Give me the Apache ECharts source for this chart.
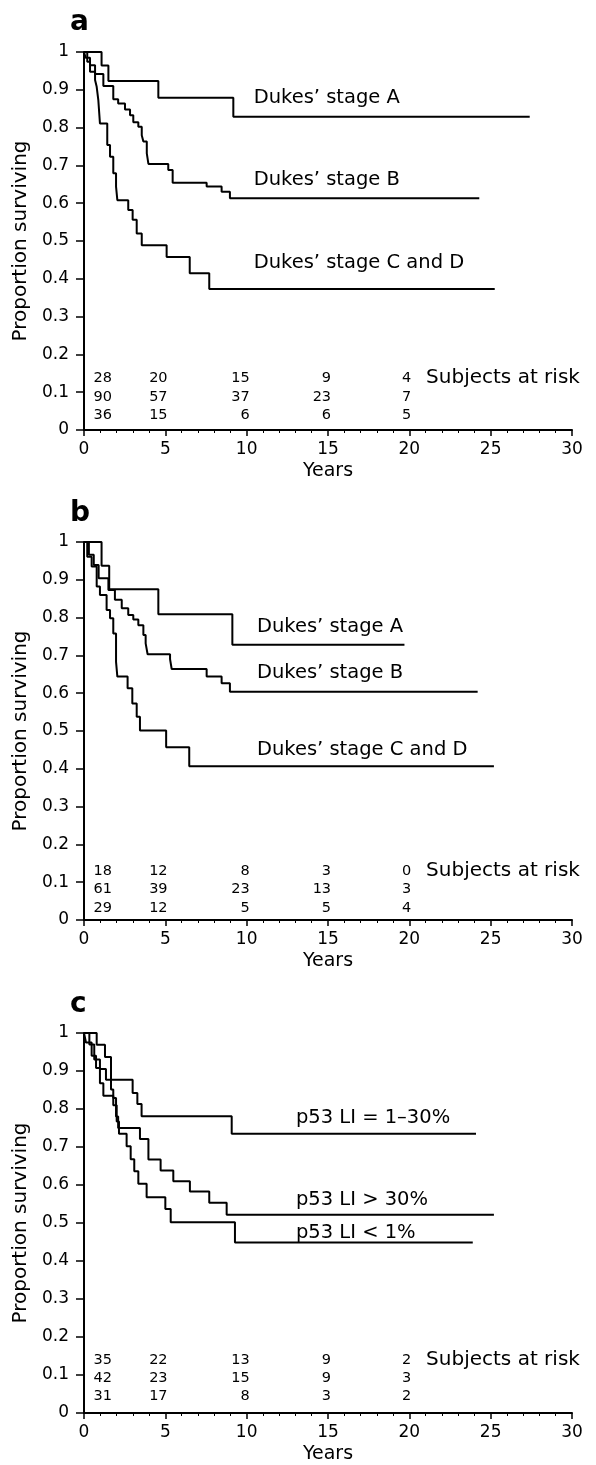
<!DOCTYPE html>
<html><head><meta charset="utf-8">
<script src="https://cdn.jsdelivr.net/npm/echarts/dist/echarts.min.js"></script>
<style>html,body{margin:0;padding:0;background:#fff}#c{width:596px;height:1465px}</style>
</head><body><div id="c"></div>
<script>
// ---------- Panel a ----------
const aStageA_t = [0, 1.08, 1.5, 4.57, 9.18, 27.4];
const aStageA_s = [1, 0.964, 0.923, 0.879, 0.829, 0.829];
const aStageB_t = [0, 0.1, 0.37, 0.68, 1.19, 1.8, 2.1, 2.52, 2.83, 3.03, 3.34, 3.55, 3.65, 3.86, 3.96, 5.18, 5.45, 7.54, 8.46, 8.97, 24.3];
const aStageB_s = [1, 0.985, 0.965, 0.942, 0.91, 0.875, 0.864, 0.848, 0.833, 0.814, 0.802, 0.78, 0.763, 0.732, 0.704, 0.688, 0.654, 0.644, 0.63, 0.613, 0.613];
const aStageCD_t = [0, 0.2, 0.37, 0.68, 0.78, 0.88, 0.98, 1.43, 1.6, 1.8, 1.97, 2.05, 2.72, 2.99, 3.24, 3.55, 5.08, 6.5, 7.7, 25.25];
const aStageCD_s = [1, 0.974, 0.948, 0.926, 0.908, 0.873, 0.811, 0.754, 0.723, 0.679, 0.644, 0.608, 0.582, 0.556, 0.52, 0.489, 0.458, 0.415, 0.373, 0.373];
const aRisk = [[28, 20, 15, 9, 4], [90, 57, 37, 23, 7], [36, 15, 6, 6, 5]];
const aRiskRows = [0.137, 0.088, 0.038];
const aLabels = ["Dukes\u2019 stage A", "Dukes\u2019 stage B", "Dukes\u2019 stage C and D"];
const aLabelPos = [[10.4, 0.878], [10.4, 0.661], [10.4, 0.442]];

// ---------- Panel b ----------
const bStageA_t = [0, 1.08, 1.55, 4.57, 9.12, 19.7];
const bStageA_s = [1, 0.937, 0.875, 0.809, 0.728, 0.728];
const bStageB_t = [0, 0.3, 0.6, 0.9, 1.5, 1.9, 2.32, 2.72, 3.03, 3.34, 3.65, 3.79, 3.91, 5.29, 5.39, 7.54, 8.46, 8.97, 24.2];
const bStageB_s = [1, 0.966, 0.939, 0.904, 0.873, 0.847, 0.825, 0.807, 0.795, 0.78, 0.754, 0.732, 0.703, 0.69, 0.664, 0.644, 0.626, 0.604, 0.604];
const bStageCD_t = [0, 0.2, 0.47, 0.78, 0.98, 1.39, 1.6, 1.8, 1.97, 2.05, 2.68, 2.97, 3.24, 3.44, 5.05, 6.47, 25.2];
const bStageCD_s = [1, 0.961, 0.935, 0.882, 0.86, 0.82, 0.798, 0.758, 0.683, 0.644, 0.613, 0.573, 0.538, 0.501, 0.457, 0.407, 0.407];
const bRisk = [[18, 12, 8, 3, 0], [61, 39, 23, 13, 3], [29, 12, 5, 5, 4]];
const bRiskRows = [0.13, 0.081, 0.032];
const bLabels = ["Dukes\u2019 stage A", "Dukes\u2019 stage B", "Dukes\u2019 stage C and D"];
const bLabelPos = [[10.6, 0.776], [10.6, 0.653], [10.6, 0.45]];

// ---------- Panel c ----------
const cMid_t = [0, 0.78, 1.29, 1.66, 2.99, 3.28, 3.54, 9.08, 24.1];
const cMid_s = [1, 0.969, 0.937, 0.877, 0.842, 0.813, 0.781, 0.735, 0.735];
const cHigh_t = [0, 0.33, 0.63, 0.98, 1.35, 1.66, 1.8, 1.97, 2.1, 3.44, 3.96, 4.71, 5.49, 6.51, 7.7, 8.77, 25.2];
const cHigh_s = [1, 0.97, 0.93, 0.905, 0.877, 0.851, 0.829, 0.78, 0.75, 0.721, 0.667, 0.638, 0.61, 0.583, 0.553, 0.522, 0.522];
const cLow_t = [0, 0.12, 0.47, 0.74, 0.98, 1.19, 1.8, 2.01, 2.15, 2.62, 2.87, 3.09, 3.34, 3.85, 5.0, 5.33, 9.28, 23.9];
const cLow_s = [1, 0.975, 0.94, 0.908, 0.868, 0.835, 0.81, 0.767, 0.735, 0.702, 0.668, 0.636, 0.603, 0.568, 0.537, 0.502, 0.449, 0.449];
const cRisk = [[35, 22, 13, 9, 2], [42, 23, 15, 9, 3], [31, 17, 8, 3, 2]];
const cRiskRows = [0.14, 0.092, 0.045];
const cLabels = ["p53 LI = 1\u201330%", "p53 LI > 30%", "p53 LI < 1%"];
const cLabelPos = [[13.0, 0.776], [13.0, 0.561], [13.0, 0.473]];

// ---------- shared ----------
const riskX = [1.75, 5.17, 10.22, 15.22, 20.15];
const riskTitle = "Subjects at risk";
const riskTitleX = 21.0;
const panelLetters = ["a", "b", "c"];

const FONT = "DejaVu Sans";
const panels = [
  {curves: [[aStageA_t, aStageA_s], [aStageB_t, aStageB_s], [aStageCD_t, aStageCD_s]], risk: aRisk, rows: aRiskRows, labels: aLabels, labelPos: aLabelPos},
  {curves: [[bStageA_t, bStageA_s], [bStageB_t, bStageB_s], [bStageCD_t, bStageCD_s]], risk: bRisk, rows: bRiskRows, labels: bLabels, labelPos: bLabelPos},
  {curves: [[cMid_t, cMid_s], [cHigh_t, cHigh_s], [cLow_t, cLow_s]], risk: cRisk, rows: cRiskRows, labels: cLabels, labelPos: cLabelPos}
];
const gridBoxes = [
  {left: 84, top: 52, width: 488, height: 378},
  {left: 84, top: 542, width: 488, height: 378},
  {left: 84, top: 1033, width: 488, height: 380}
];
const titleTops = [9, 500, 991];
const HIDDEN = 'rgba(0,0,0,0)';

const grid = [], xAxis = [], yAxis = [], series = [], title = [];
panels.forEach((p, i) => {
  grid.push(gridBoxes[i]);
  title.push({text: panelLetters[i], left: 70, top: titleTops[i], padding: 0,
    textStyle: {fontFamily: FONT, fontSize: 28, fontWeight: 900, color: '#000'}});
  xAxis.push({
    gridIndex: i, type: 'value', min: 0, max: 30, interval: 5,
    name: 'Years', nameLocation: 'middle', nameGap: 32,
    nameTextStyle: {fontFamily: FONT, fontSize: 19, color: '#000'},
    axisLine: {show: true, lineStyle: {color: '#000', width: 2}},
    axisTick: {show: true, length: 6, lineStyle: {color: '#000', width: 1.5}},
    minorTick: {show: true, splitNumber: 5, length: 3, lineStyle: {color: '#000', width: 1}},
    axisLabel: {margin: 11, fontFamily: FONT, fontSize: 17, color: '#000'},
    splitLine: {show: false}, minorSplitLine: {show: false}
  });
  yAxis.push({
    gridIndex: i, type: 'value', min: 0, max: 1, interval: 0.1,
    name: 'Proportion surviving', nameLocation: 'middle', nameRotate: 90, nameGap: 50,
    nameTextStyle: {fontFamily: FONT, fontSize: 20, color: '#000'},
    axisLine: {show: true, lineStyle: {color: '#000', width: 2}},
    axisTick: {show: true, length: 8, lineStyle: {color: '#000', width: 1.5}},
    axisLabel: {margin: 15, fontFamily: FONT, fontSize: 17, color: '#000'},
    splitLine: {show: false}
  });
  p.curves.forEach(([t, s]) => {
    series.push({
      type: 'line', xAxisIndex: i, yAxisIndex: i, step: 'end', symbol: 'none', silent: true,
      lineStyle: {color: '#000', width: 2}, data: t.map((x, k) => [x, s[k]])
    });
  });
  const lab = (pos, size) => ({show: true, position: pos, distance: 0, formatter: q => q.value[2],
    fontFamily: FONT, fontSize: size, color: '#000', opacity: 1, textBorderWidth: 0});
  // curve labels
  series.push({
    type: 'scatter', xAxisIndex: i, yAxisIndex: i, symbolSize: 1, silent: true,
    itemStyle: {color: HIDDEN},
    data: p.labels.map((txt, k) => [p.labelPos[k][0], p.labelPos[k][1], txt]),
    label: lab('right', 19.5)
  });
  // numbers at risk
  const riskData = [];
  p.risk.forEach((row, r) => row.forEach((n, c) => riskData.push([riskX[c], p.rows[r], String(n)])));
  series.push({
    type: 'scatter', xAxisIndex: i, yAxisIndex: i, symbolSize: 1, silent: true,
    itemStyle: {color: HIDDEN}, data: riskData,
    label: lab('left', 14.5)
  });
  series.push({
    type: 'scatter', xAxisIndex: i, yAxisIndex: i, symbolSize: 1, silent: true,
    itemStyle: {color: HIDDEN}, data: [[riskTitleX, p.rows[0], riskTitle]],
    label: lab('right', 20)
  });
});

const chart = echarts.init(document.getElementById('c'), null, {renderer: 'canvas'});
chart.setOption({animation: false, backgroundColor: '#fff', title, grid, xAxis, yAxis, series});
</script>
</body></html>
